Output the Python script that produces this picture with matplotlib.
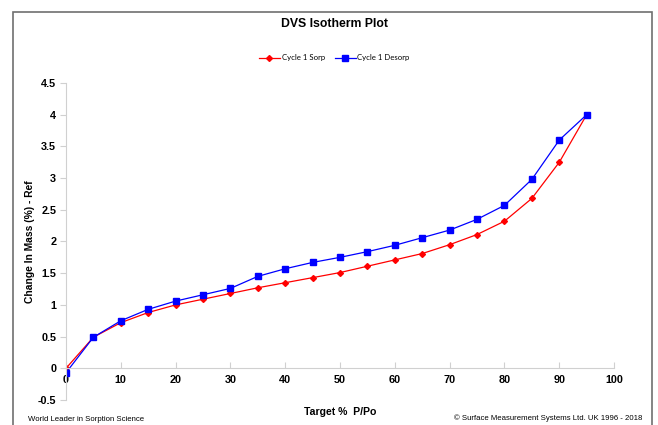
import matplotlib
matplotlib.use("Agg")
import matplotlib.pyplot as plt
from matplotlib.patches import Rectangle

# target % P/Po
target_pp = [0, 5, 10, 15, 20, 25, 30, 35, 40, 45, 50, 55, 60, 65, 70, 75, 80, 85, 90, 95]
# change in mass (%) - ref
sorp = [0.0, 0.49, 0.72, 0.88, 1.00, 1.09, 1.18, 1.27, 1.35, 1.43, 1.51,
        1.61, 1.71, 1.81, 1.95, 2.11, 2.32, 2.68, 3.25, 4.00]
desorp = [-0.07, 0.49, 0.75, 0.93, 1.06, 1.16, 1.26, 1.45, 1.57, 1.67, 1.75,
          1.84, 1.94, 2.06, 2.18, 2.35, 2.57, 2.98, 3.60, 4.00]

x_ticks = [0, 10, 20, 30, 40, 50, 60, 70, 80, 90, 100]
y_ticks = [-0.5, 0, 0.5, 1, 1.5, 2, 2.5, 3, 3.5, 4, 4.5]

plt.rcParams['font.family'] = ['Liberation Sans', 'DejaVu Sans']

fig = plt.figure(figsize=(6.58, 4.25), dpi=100)
ax = fig.add_axes([0.1003, 0.0588, 0.833, 0.746])

ax.plot(target_pp, sorp, color="#ff0000", lw=0.9, marker="D", ms=3,
        label="Cycle 1 Sorp")
ax.plot(target_pp, desorp, color="#0000ff", lw=0.9, marker="s", ms=4.5,
        label="Cycle 1 Desorp")

ax.set_xlim(0, 100)
ax.set_ylim(-0.5, 4.5)
ax.set_xticks(x_ticks)
ax.set_yticks(y_ticks)
ax.set_yticklabels([f"{v:g}" for v in y_ticks])

for s in ["top", "right"]:
    ax.spines[s].set_visible(False)
ax.spines["bottom"].set_position(("data", 0))
ax.spines["bottom"].set_color("#d0d0d0")
ax.spines["left"].set_color("#d0d0d0")
ax.tick_params(axis="x", direction="in", length=4, color="#d0d0d0", pad=5,
               labelsize=7.8)
ax.tick_params(axis="y", direction="out", length=4, color="#d0d0d0", pad=3,
               labelsize=7.8)
for lab in ax.get_xticklabels() + ax.get_yticklabels():
    lab.set_fontweight("bold")

fig.text(0.509, 0.944, "DVS Isotherm Plot", ha="center", va="center",
         fontsize=8.8, fontweight="bold")
fig.text(0.046, 0.432, "Change In Mass (%) - Ref", rotation=90, ha="center",
         va="center", fontsize=7.4, fontweight="bold")
fig.text(0.517, 0.031, "Target %  P/Po", ha="center", va="center",
         fontsize=7.6, fontweight="bold")
fig.text(0.043, 0.012, "World Leader in Sorption Science", ha="left",
         va="center", fontsize=5.6)
fig.text(0.977, 0.016, "\u00a9 Surface Measurement Systems Ltd. UK 1996 - 2018",
         ha="right", va="center", fontsize=5.6)

leg = fig.legend(loc="center", bbox_to_anchor=(0.508, 0.864), ncol=2,
                 frameon=False, handlelength=2.7, handletextpad=0.2,
                 columnspacing=1.3, prop={'family': 'Lato', 'size': 5.6})

fig.patches.append(Rectangle((0.019, -0.05), 0.972, 1.022, transform=fig.transFigure,
                             fill=False, edgecolor="#707070", lw=1.2))

fig.savefig("out.png", dpi=100)
